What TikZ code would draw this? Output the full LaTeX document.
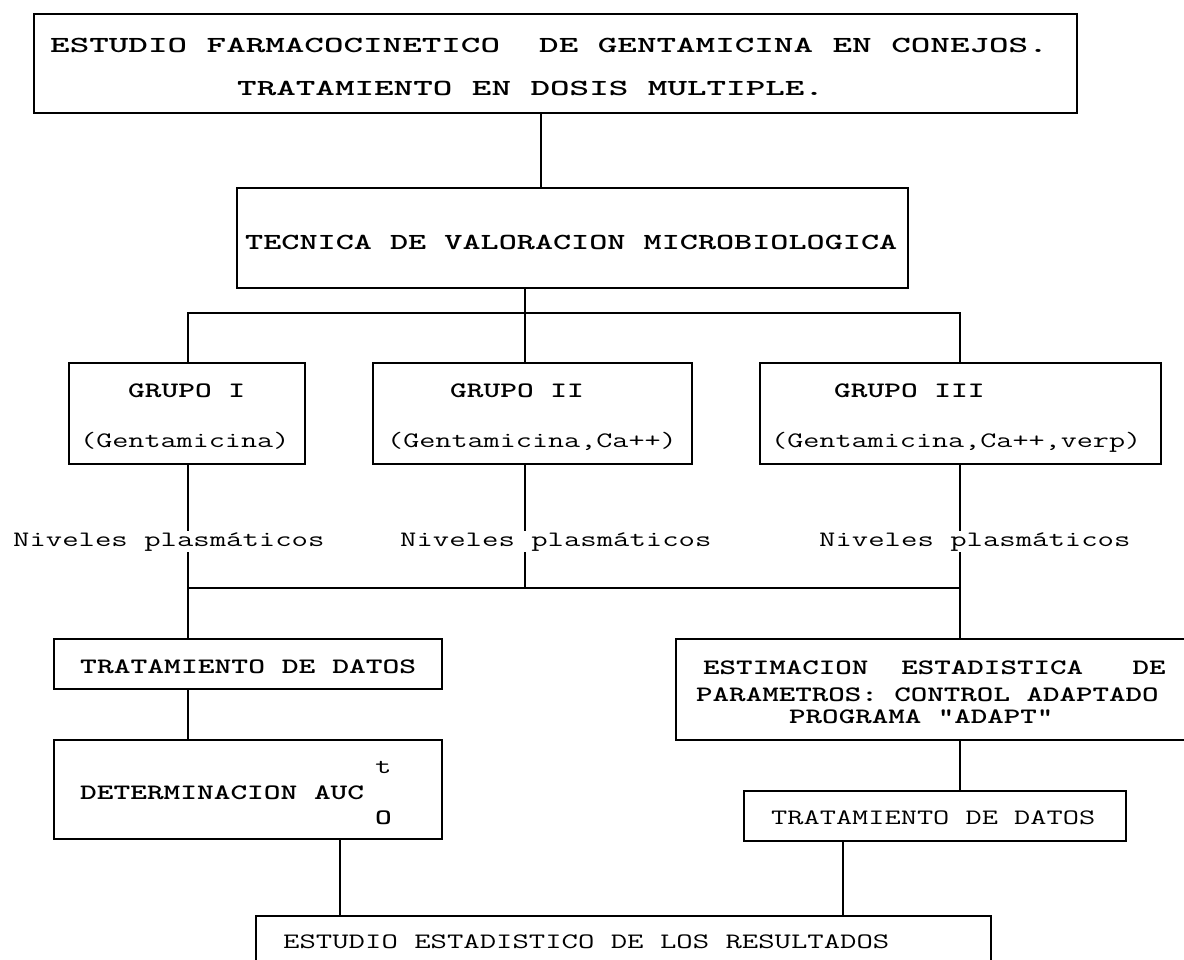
\documentclass[tikz,border=0pt]{standalone}
\usepackage{fontspec}
\usepackage{graphicx}
\newcommand\sx[2]{\scalebox{#1}[1]{#2}}
\tikzset{
  box/.style={draw, line width=1.6pt, inner sep=0pt},
  ln/.style={line width=1.6pt},
  rt/.style={inner sep=0pt, anchor=base west, font=\ttfamily\fontsize{22}{26}\selectfont\addfontfeature{FakeBold=3}},
  bt/.style={inner sep=0pt, anchor=base west, font=\ttfamily\bfseries\fontsize{22}{26}\selectfont\addfontfeature{FakeBold=2.5}},
  tt/.style={inner sep=0pt, anchor=base west, font=\ttfamily\bfseries\fontsize{23}{27}\selectfont\addfontfeature{FakeBold=2.5}},
  lab/.style={rt, fill=white, inner ysep=1.5pt, inner xsep=0pt},
}
\begin{document}
\begin{tikzpicture}[x=1pt,y=-1pt]
\useasboundingbox (0,0) rectangle (1184,960);
\clip (0,0) rectangle (1184,960);
% boxes
\node[box, minimum width=1043pt, minimum height=99pt] (top) at (555.5,63.5) {};
\node[box, minimum width=671pt, minimum height=100pt] (tec) at (572.5,238) {};
\node[box, minimum width=236pt, minimum height=101pt] (g1) at (187,413.5) {};
\node[box, minimum width=319pt, minimum height=101pt] (g2) at (532.5,413.5) {};
\node[box, minimum width=401pt, minimum height=101pt] (g3) at (960.5,413.5) {};
\node[box, minimum width=388pt, minimum height=50pt] (tl) at (248,664) {};
\node[box, minimum width=388pt, minimum height=99pt] (det) at (248,789.5) {};
\node[box, minimum width=524pt, minimum height=101pt] (est) at (938,689.5) {};
\node[box, minimum width=382pt, minimum height=50pt] (tr) at (935,816) {};
\node[box, minimum width=735pt, minimum height=84pt] (fin) at (623.5,958) {};
% junction columns
\coordinate (c1) at (541,0);
\coordinate (c2) at (525,0);
\coordinate (c3) at (188,0);
\coordinate (c4) at (340,0);
\coordinate (c5) at (960,0);
\coordinate (c6) at (843,0);
\coordinate (b1L) at (188,313);
\coordinate (b1R) at (960,313);
\coordinate (b2L) at (188,588);
\coordinate (b2R) at (960,588);
% connectors
\draw[ln] (top.south -| c1) -- (tec.north -| c1);
\draw[ln] (tec.south -| c2) -- (g2.north -| c2);
\draw[ln] (g1.north -| b1L) -- (b1L) -- (b1R) -- (g3.north -| b1R);
\draw[ln] (g1.south -| c3) -- (tl.north -| c3);
\draw[ln] (g2.south -| c2) -- (c2 |- b2L);
\draw[ln] (b2L) -- (b2R);
\draw[ln] (g3.south -| b1R) -- (est.north -| b1R);
\draw[ln] (tl.south -| c3) -- (det.north -| c3);
\draw[ln] (det.south -| c4) -- (fin.north -| c4);
\draw[ln] (est.south -| c5) -- (tr.north -| c5);
\draw[ln] (tr.south -| c6) -- (fin.north -| c6);
% texts
\node[tt] (t1) at (50,53) {\sx{1.62}{ESTUDIO FARMACOCINETICO\ \ DE GENTAMICINA EN CONEJOS.}};
\node[tt] (t2) at (237,96) {\sx{1.62}{TRATAMIENTO EN DOSIS MULTIPLE.}};
\node[tt] (t3) at (245,250) {\sx{1.50}{TECNICA DE VALORACION MICROBIOLOGICA}};
\node[bt] (g1a) at (128,397) {\sx{1.446}{GRUPO I}};
\node[rt] (g1b) at (80,447) {\sx{1.42}{(Gentamicina)}};
\node[bt] (g2a) at (450,397) {\sx{1.446}{GRUPO II}};
\node[rt] (g2b) at (387,447) {\sx{1.42}{(Gentamicina,Ca++)}};
\node[bt] (g3a) at (834,397) {\sx{1.446}{GRUPO III}};
\node[rt] (g3b) at (771,447) {\sx{1.42}{(Gentamicina,Ca++,verp)}};
\node[lab] (n1) at (13,546) {\sx{1.446}{Niveles plasmáticos}};
\node[lab] (n2) at (400,546) {\sx{1.446}{Niveles plasmáticos}};
\node[lab] (n3) at (819,546) {\sx{1.446}{Niveles plasmáticos}};
\node[bt] (tlt) at (80,673) {\sx{1.455}{TRATAMIENTO DE DATOS}};
\node[bt] (dett) at (80,799) {\sx{1.446}{DETERMINACION AUC}};
\node[rt] (dsup) at (375,773) {\sx{1.446}{t}};
\node[bt] (dsub) at (375,824) {\sx{1.446}{O}};
\node[bt] (e1) at (703,674) {\sx{1.43}{ESTIMACION\ \ ESTADISTICA\ \ \ DE}};
\node[bt] (e2) at (696,701) {\sx{1.43}{PARAMETROS: CONTROL ADAPTADO}};
\node[bt] (e3) at (789,723) {\sx{1.43}{PROGRAMA "ADAPT"}};
\node[rt] (trt) at (771,824) {\sx{1.43}{TRATAMIENTO DE DATOS}};
\node[rt] (fint) at (283,948) {\sx{1.446}{ESTUDIO ESTADISTICO DE LOS RESULTADOS}};
\end{tikzpicture}
\end{document}
